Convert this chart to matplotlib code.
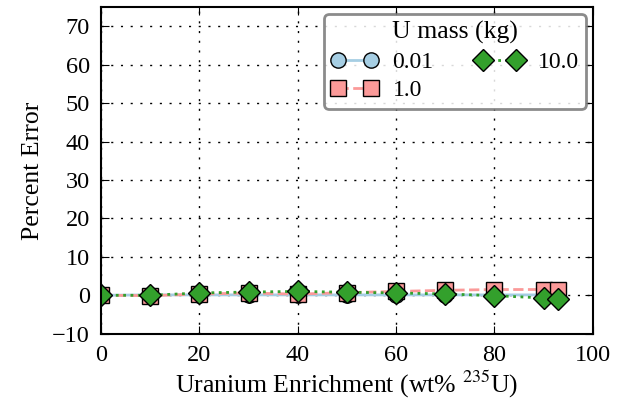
import numpy as np
import matplotlib
matplotlib.use('Agg')
import matplotlib.pyplot as plt

plt.rcParams['font.family'] = ['Liberation Serif', 'DejaVu Serif']
plt.rcParams['mathtext.fontset'] = 'stix'

# enrichment points (wt% U-235)
enrich = [0, 10, 20, 30, 40, 50, 60, 70, 80, 90, 93]

# percent error per uranium mass
err_001 = [0.0, 0.1, 0.1, 0.1, 0.1, 0.1, 0.1, 0.1, 0.1, 0.1, 0.1]
err_1 = [0.0, -0.1, 0.3, 0.6, 0.3, 0.7, 1.0, 1.3, 1.5, 1.5, 1.5]
err_10 = [0.0, 0.0, 0.6, 0.85, 1.0, 0.8, 0.6, 0.35, -0.1, -0.7, -0.9]

masses = ['0.01', '1.0', '10.0']
series = [err_001, err_1, err_10]
colors = ['#a6cee3', '#fb9a99', '#33a02c']
markers = ['o', 's', 'D']
styles = ['-', '--', ':']

fig = plt.figure(figsize=(6.28, 4.12), dpi=100)
ax = fig.add_axes([0.161, 0.19, 0.783, 0.793])

for lab, y, c, m, ls in zip(masses, series, colors, markers, styles):
    ax.plot(enrich, y, linestyle=ls, color=c, marker=m, markersize=11,
            markerfacecolor=c, markeredgecolor='black', markeredgewidth=1,
            linewidth=2, label=lab)

ax.set_xlim(0, 100)
ax.set_ylim(-10, 75)
ax.set_xticks(np.arange(0, 101, 20))
ax.set_yticks(np.arange(-10, 71, 10))
ax.tick_params(direction='in', top=True, right=True, length=6, labelsize=17.5, pad=8)
ax.grid(True, color='black', linestyle=(0, (1.5, 5.5)), linewidth=1)
for s in ax.spines.values():
    s.set_linewidth(1.5)

ax.set_xlabel('Uranium Enrichment (wt% $^{235}$U)', fontsize=18.5, labelpad=2)
ax.set_ylabel('Percent Error', fontsize=18.5, labelpad=6)

leg = ax.legend(title='U mass (kg)', ncol=2, loc='upper right', fontsize=17,
                title_fontsize=18.5, numpoints=2, fancybox=True, framealpha=0.85,
                handlelength=2.0, columnspacing=1.8, borderpad=0.3,
                labelspacing=0.3, handletextpad=0.6, borderaxespad=0.3)
leg.get_frame().set_edgecolor('#777777')
leg.get_frame().set_linewidth(2)

fig.savefig('out.png', dpi=100)
